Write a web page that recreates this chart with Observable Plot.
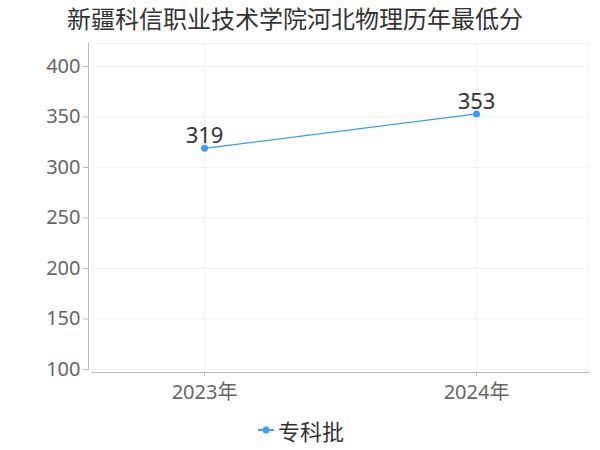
<!DOCTYPE html>
<html>
<head>
<meta charset="utf-8">
<script src="https://cdn.jsdelivr.net/npm/d3@7"></script>
<script src="https://cdn.jsdelivr.net/npm/@observablehq/plot@0.6"></script>
<style>
  body { margin: 0; background: #fff; font-family: "Noto Sans", "Noto Sans CJK SC", sans-serif; }
  #wrap { width: 600px; height: 450px; overflow: hidden; }
  #title { height: 40px; line-height: 38px; font-size: 24px; color: #333; text-align: center; padding-right: 10px; box-sizing: border-box; white-space: nowrap; }
  #legend { height: 40px; display: flex; align-items: center; justify-content: center; font-size: 22px; color: #333; padding-left: 2px; box-sizing: border-box; }
  #legend svg { margin-right: 4px; }
</style>
</head>
<body>
<div id="wrap">
  <div id="title"></div>
  <div id="chart"></div>
  <div id="legend"></div>
</div>
<script>
const titleText = "新疆科信职业技术学院河北物理历年最低分";
const years = ["2023年", "2024年"];
const scores = [319, 353];
const seriesName = "专科批";
const yTicks = [100, 150, 200, 250, 300, 350, 400];
const color = "#3a9cff";

document.getElementById("title").textContent = titleText;

const data = years.map((y, i) => ({year: y, score: scores[i]}));

const chart = Plot.plot({
  width: 600,
  height: 370,
  marginTop: 3,
  marginBottom: 38,
  marginLeft: 92,
  marginRight: 12,
  style: { fontFamily: '"Noto Sans", "Noto Sans CJK SC", sans-serif', background: "#fff" },
  x: { type: "point", domain: years, padding: 0.41 },
  y: { domain: [100, 400], insetTop: 23, insetBottom: 3 },
  marks: [
    Plot.frame({ stroke: "#f4f4f4" }),
    Plot.gridY(yTicks, { stroke: "#f3f3f3", strokeOpacity: 1 }),
    Plot.gridX(years, { stroke: "#f3f3f3", strokeOpacity: 1 }),
    Plot.frame({ anchor: "left", stroke: "#bbb", dx: -4, insetBottom: 3 }),
    Plot.frame({ anchor: "bottom", stroke: "#bbb" }),
    Plot.axisY(yTicks, { tickSize: 5, dx: -4, tickPadding: 3, fontSize: 20, color: "#666", stroke: "#bbb", label: null }),
    Plot.axisX(years, { tickSize: 4, tickPadding: 8, fontSize: 20, color: "#666", stroke: "#bbb", label: null }),
    Plot.line(data, { x: "year", y: "score", stroke: color, strokeWidth: 1.2 }),
    Plot.dot(data, { x: "year", y: "score", fill: color, r: 3.5 }),
    Plot.text(data, { x: "year", y: "score", text: d => String(d.score), dy: -12, fontSize: 22, fill: "#333" })
  ]
});
document.getElementById("chart").appendChild(chart);

const lg = document.getElementById("legend");
lg.innerHTML = '<svg width="16" height="10"><line x1="0" y1="5" x2="16" y2="5" stroke="' + color + '" stroke-width="2"/><circle cx="8" cy="5" r="3.5" fill="' + color + '"/></svg><span></span>';
lg.querySelector("span").textContent = seriesName;
</script>
</body>
</html>
